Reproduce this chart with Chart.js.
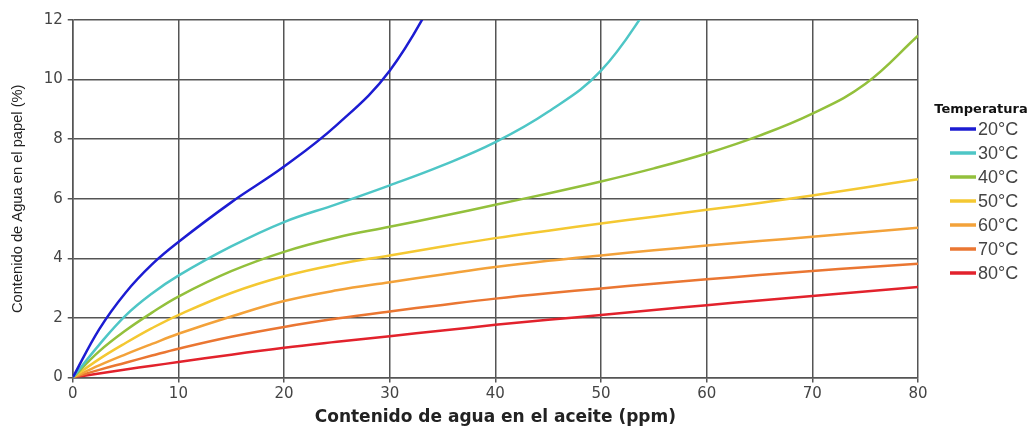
<!DOCTYPE html>
<html>
<head>
<meta charset="utf-8">
<script src="https://cdn.jsdelivr.net/npm/chart.js@4/dist/chart.umd.min.js"></script>
<style>
    html, body { margin: 0; padding: 0; background: #fff; }
    #wrap { width: 1036px; height: 428px; position: relative; }
</style>
</head>
<body>
<div id="wrap"><canvas id="waterChart"></canvas></div>
<script>
// contenido de agua en el aceite (ppm)
const ppm = [0, 2.5, 5, 7.5, 10, 15, 20, 25, 30, 35, 40, 45, 50, 55, 60, 65, 70, 75, 80];

// contenido de agua en el papel (%) por temperatura
const t20 = [0, 1.62, 2.85, 3.8, 4.55, 5.88, 7.08, 8.48, 10.3, 13.2, null, null, null, null, null, null, null, null, null];
const t30 = [0, 1.1, 2.08, 2.82, 3.42, 4.4, 5.22, 5.82, 6.45, 7.12, 7.9, 8.92, 10.3, 12.7, null, null, null, null, null];
const t40 = [0, 0.88, 1.58, 2.18, 2.72, 3.57, 4.22, 4.7, 5.06, 5.42, 5.8, 6.18, 6.58, 7.02, 7.52, 8.12, 8.86, 9.85, 11.47];
const t50 = [0, 0.62, 1.16, 1.66, 2.1, 2.84, 3.4, 3.8, 4.1, 4.4, 4.68, 4.93, 5.17, 5.4, 5.63, 5.86, 6.11, 6.38, 6.66];
const t60 = [0, 0.41, 0.78, 1.13, 1.47, 2.05, 2.57, 2.93, 3.2, 3.46, 3.71, 3.92, 4.1, 4.27, 4.43, 4.58, 4.73, 4.88, 5.03];
const t70 = [0, 0.26, 0.5, 0.74, 0.97, 1.37, 1.7, 1.98, 2.22, 2.44, 2.65, 2.83, 2.99, 3.15, 3.3, 3.44, 3.58, 3.7, 3.82];
const t80 = [0, 0.14, 0.27, 0.4, 0.52, 0.77, 1.0, 1.2, 1.39, 1.58, 1.77, 1.94, 2.1, 2.27, 2.43, 2.59, 2.74, 2.89, 3.04];

const temps = ["20°C", "30°C", "40°C", "50°C", "60°C", "70°C", "80°C"];
const legendTitle = "Temperatura";
const seriesList = [t20, t30, t40, t50, t60, t70, t80];
const colors = ["#1c1cd2", "#4ec6c6", "#93c03c", "#f4c832", "#f3a23a", "#ea7632", "#e2222c"];

const datasets = seriesList.map((values, i) => ({
    label: temps[i],
    data: ppm.map((x, j) => ({ x: x, y: values[j] })),
    borderColor: colors[i],
    backgroundColor: colors[i],
    borderWidth: 2.5,
    pointRadius: 0,
    fill: false,
    tension: 0.4,
    spanGaps: false,
}));

// leyenda dibujada a la derecha del grafico
const sideLegend = {
    id: "sideLegend",
    afterDraw(chart) {
        const c = chart.ctx;
        c.save();
        c.textBaseline = "middle";
        c.textAlign = "center";
        c.fillStyle = "#111";
        c.font = "bold 13px 'DejaVu Sans'";
        c.fillText(legendTitle, 981, 110);

        c.textAlign = "left";
        c.font = "18px 'Liberation Sans'";
        chart.data.datasets.forEach((ds, i) => {
            const y = 129 + i * 24;
            c.strokeStyle = ds.borderColor;
            c.lineWidth = 3.5;
            c.beginPath();
            c.moveTo(950, y);
            c.lineTo(976, y);
            c.stroke();
            c.fillStyle = "#444";
            c.fillText(ds.label, 978, y + 1);
        });
        c.restore();
    },
};

const ctx = document.getElementById("waterChart").getContext("2d");

new Chart(ctx, {
    type: "line",
    data: { datasets: datasets },
    plugins: [sideLegend],
    options: {
        responsive: true,
        maintainAspectRatio: false,
        animation: false,
        layout: {
            padding: { top: 20, right: 118, bottom: 0, left: 9 },
        },
        plugins: {
            tooltip: { enabled: false },
            legend: { display: false },
        },
        scales: {
            x: {
                type: "linear",
                min: 0,
                max: 80,
                ticks: {
                    stepSize: 10,
                    color: "#444",
                    padding: 3,
                    font: { family: "DejaVu Sans", size: 15 },
                },
                grid: {
                    color: "#555",
                    lineWidth: 1.5,
                    tickLength: 5,
                },
                border: { color: "#555", width: 1.5 },
                title: {
                    display: true,
                    text: "Contenido de agua en el aceite (ppm)",
                    color: "#222",
                    font: { family: "DejaVu Sans", size: 17, weight: "bold" },
                    padding: { top: 1, bottom: 0 },
                },
            },
            y: {
                min: 0,
                max: 12,
                ticks: {
                    stepSize: 2,
                    color: "#444",
                    padding: 5,
                    font: { family: "DejaVu Sans", size: 15 },
                },
                grid: {
                    color: "#555",
                    lineWidth: 1.5,
                    tickLength: 5,
                },
                border: { color: "#555", width: 1.5 },
                title: {
                    display: true,
                    text: "Contenido de Agua en el papel (%)",
                    color: "#222",
                    font: { family: "Liberation Sans", size: 14.7 },
                    padding: { top: 0, bottom: 12 },
                },
            },
        },
    },
});
</script>
</body>
</html>
